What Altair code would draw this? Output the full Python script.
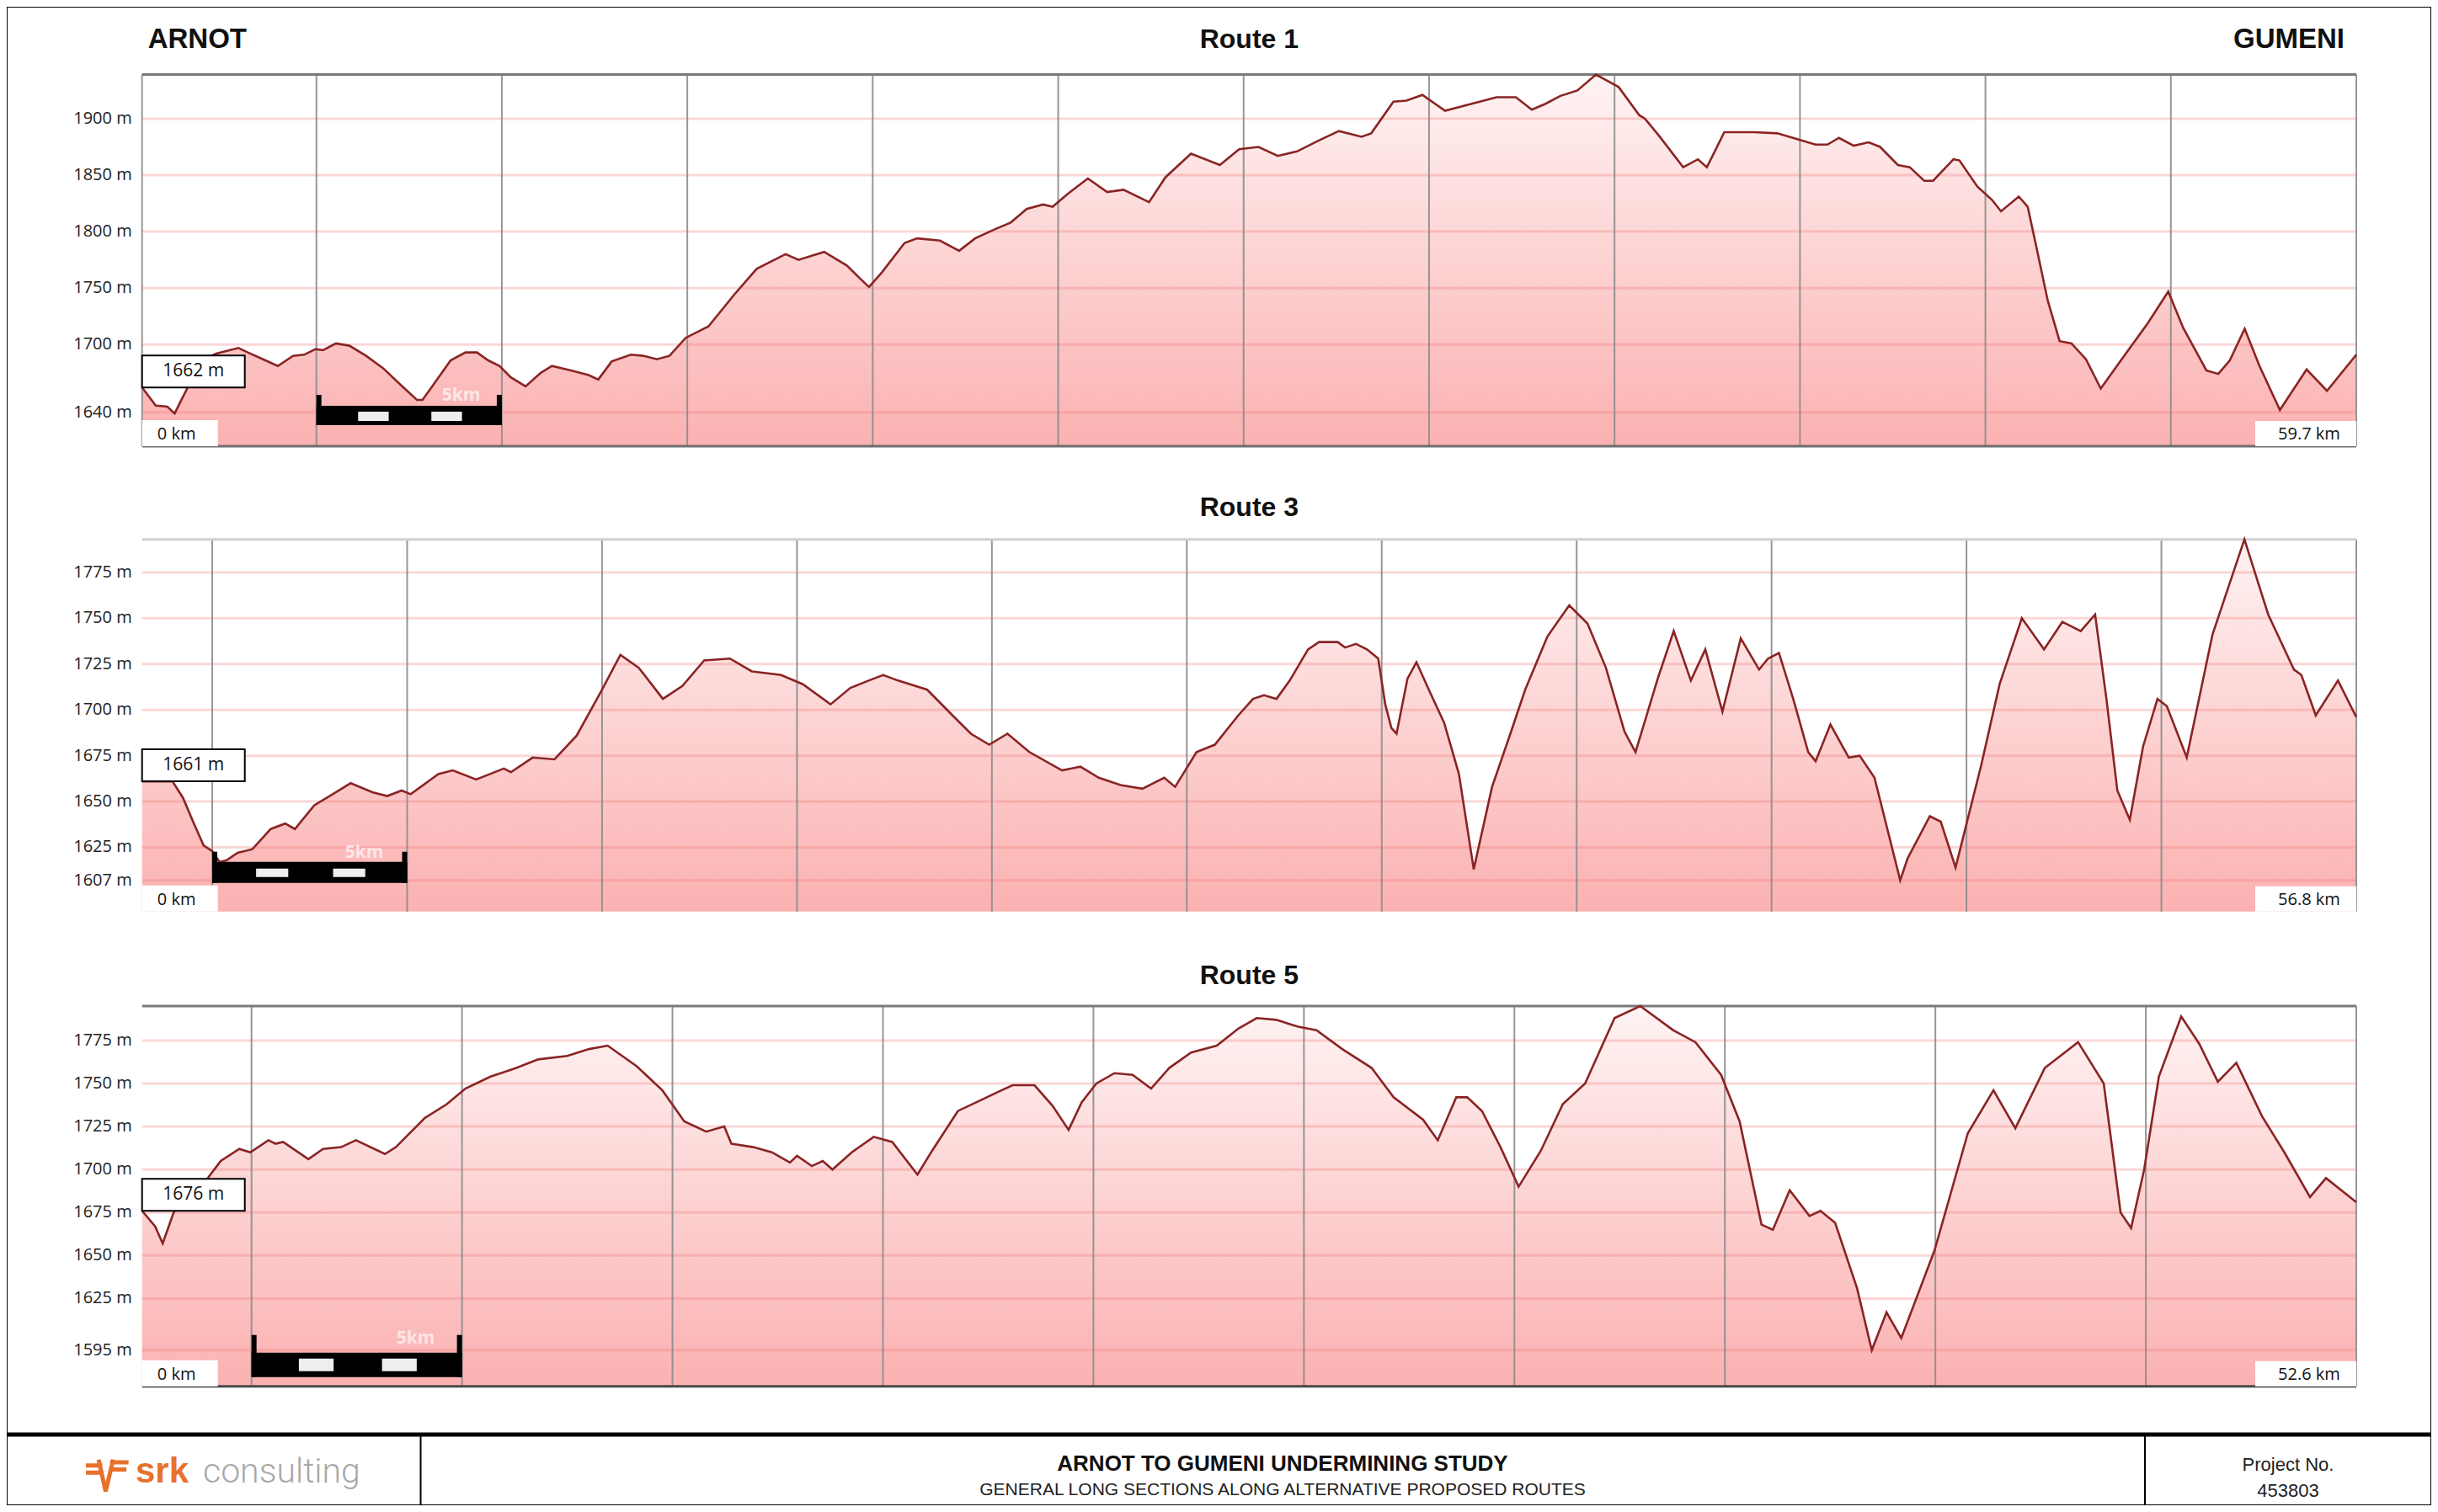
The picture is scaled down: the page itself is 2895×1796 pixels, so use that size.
import altair as alt
import pandas as pd

# ---------------- data (km along route, elevation in m) ----------------
route1 = [(0, 1662), (0.37, 1646), (0.68, 1645), (0.88, 1639), (1.03, 1649), (1.23, 1662), (1.5, 1685),
          (2.0, 1692), (2.6, 1697), (2.85, 1693), (3.26, 1687), (3.66, 1681), (4.07, 1690), (4.37, 1691),
          (4.68, 1696), (4.88, 1695), (5.23, 1701), (5.59, 1699), (6.04, 1690), (6.5, 1679), (6.95, 1665),
          (7.41, 1651), (7.56, 1651), (7.91, 1667), (8.32, 1686), (8.72, 1693), (9.03, 1693), (9.33, 1686),
          (9.64, 1681), (9.94, 1671), (10.34, 1663), (10.75, 1675), (11.05, 1681), (11.56, 1677), (12.04, 1673),
          (12.3, 1669), (12.66, 1685), (13.18, 1691), (13.53, 1690), (13.88, 1687), (14.22, 1690), (14.66, 1706),
          (15.27, 1716), (15.96, 1744), (16.57, 1767), (17.35, 1780), (17.7, 1775), (18.39, 1782), (19.0, 1770),
          (19.34, 1759), (19.6, 1751), (19.95, 1764), (20.56, 1790), (20.9, 1794), (21.51, 1792), (22.03, 1783),
          (22.46, 1794), (22.99, 1802), (23.42, 1808), (23.85, 1820), (24.29, 1824), (24.55, 1822), (24.98, 1834),
          (25.5, 1847), (26.02, 1835), (26.46, 1837), (27.15, 1826), (27.59, 1848), (28.28, 1869), (29.06, 1859),
          (29.58, 1873), (30.1, 1875), (30.62, 1867), (31.14, 1871), (31.75, 1881), (32.27, 1889), (32.88, 1884),
          (33.14, 1887), (33.74, 1915), (34.09, 1916), (34.52, 1921), (35.13, 1907), (35.83, 1913), (36.52, 1919),
          (37.04, 1919), (37.47, 1908), (37.83, 1913), (38.23, 1920), (38.7, 1925), (39.2, 1939), (39.81, 1928),
          (40.37, 1903), (40.52, 1900), (40.92, 1884), (41.55, 1857), (41.95, 1864), (42.19, 1857), (42.66, 1888),
          (43.46, 1888), (44.09, 1887), (44.72, 1881), (45.12, 1877), (45.44, 1877), (45.75, 1883), (46.15, 1876),
          (46.55, 1879), (46.86, 1875), (47.34, 1859), (47.66, 1857), (48.05, 1845), (48.29, 1845), (48.84, 1864),
          (49.0, 1863), (49.48, 1840), (49.88, 1828), (50.12, 1818), (50.6, 1831), (50.84, 1822), (51.07, 1787),
          (51.38, 1739), (51.7, 1703), (52.02, 1701), (52.41, 1687), (52.81, 1661), (53.44, 1690), (54.08, 1719),
          (54.63, 1747), (55.03, 1715), (55.66, 1677), (55.98, 1674), (56.29, 1686), (56.69, 1714), (57.09, 1681),
          (57.64, 1642), (58.36, 1678), (58.91, 1659), (59.7, 1691)]

route3 = [(0, 1661), (0.78, 1661), (1.05, 1652), (1.33, 1638), (1.58, 1626), (1.8, 1623), (1.99, 1617),
          (2.17, 1618), (2.45, 1622), (2.83, 1624), (3.3, 1635), (3.67, 1638), (3.92, 1635), (4.42, 1648),
          (4.89, 1654), (5.35, 1660), (5.92, 1655), (6.29, 1653), (6.66, 1656), (6.89, 1654), (7.6, 1665),
          (7.97, 1667), (8.57, 1662), (9.28, 1668), (9.46, 1666), (10.02, 1674), (10.58, 1673), (11.15, 1686),
          (11.8, 1711), (12.27, 1730), (12.74, 1723), (13.36, 1706), (13.86, 1713), (14.42, 1727), (15.08, 1728),
          (15.64, 1721), (16.39, 1719), (16.95, 1714), (17.66, 1703), (18.17, 1712), (18.64, 1716), (19.01, 1719),
          (19.39, 1716), (20.14, 1711), (20.79, 1697), (21.26, 1687), (21.73, 1681), (22.2, 1687), (22.76, 1677),
          (23.6, 1667), (24.07, 1669), (24.54, 1663), (25.1, 1659), (25.66, 1657), (26.22, 1663), (26.5, 1658),
          (27.05, 1677), (27.52, 1681), (28.12, 1697), (28.5, 1706), (28.78, 1708), (29.1, 1706), (29.44, 1716),
          (29.91, 1733), (30.19, 1737), (30.67, 1737), (30.86, 1734), (31.14, 1736), (31.42, 1733), (31.71, 1728),
          (31.89, 1703), (32.05, 1690), (32.18, 1687), (32.46, 1717), (32.69, 1726), (33.03, 1710), (33.4, 1693),
          (33.78, 1665), (34.16, 1613), (34.63, 1658), (35.1, 1687), (35.48, 1711), (36.05, 1740), (36.61, 1757),
          (37.08, 1747), (37.55, 1723), (38.03, 1688), (38.31, 1677), (38.88, 1717), (39.29, 1743), (39.73, 1716),
          (40.1, 1733), (40.54, 1699), (41.01, 1739), (41.48, 1722), (41.71, 1728), (41.99, 1731), (42.37, 1705),
          (42.74, 1677), (42.93, 1672), (43.31, 1692), (43.78, 1674), (44.06, 1675), (44.44, 1663), (45.1, 1607),
          (45.29, 1619), (45.86, 1642), (46.14, 1639), (46.52, 1614), (47.18, 1670), (47.65, 1714), (48.22, 1750),
          (48.79, 1733), (49.26, 1748), (49.73, 1743), (50.1, 1752), (50.39, 1706), (50.67, 1656), (50.99, 1640),
          (51.33, 1680), (51.7, 1706), (51.94, 1702), (52.45, 1674), (53.11, 1741), (53.93, 1793), (54.54, 1752),
          (55.2, 1722), (55.39, 1719), (55.76, 1697), (56.33, 1716), (56.8, 1696)]

route5 = [(0, 1676), (0.31, 1667), (0.49, 1657), (0.75, 1675), (1.18, 1690), (1.53, 1694), (1.87, 1705),
          (2.31, 1712), (2.57, 1710), (3.0, 1717), (3.17, 1715), (3.35, 1716), (3.95, 1706), (4.3, 1712),
          (4.73, 1713), (5.08, 1717), (5.77, 1709), (6.03, 1713), (6.72, 1730), (7.24, 1738), (7.68, 1747),
          (8.28, 1754), (8.89, 1759), (9.41, 1764), (10.1, 1766), (10.62, 1770), (11.06, 1772), (11.75, 1760),
          (12.36, 1746), (12.88, 1728), (13.4, 1722), (13.83, 1725), (14.0, 1715), (14.52, 1713), (14.96, 1710),
          (15.39, 1704), (15.56, 1708), (15.91, 1702), (16.17, 1705), (16.4, 1700), (16.86, 1710), (17.38, 1719),
          (17.82, 1716), (18.42, 1697), (18.77, 1711), (19.38, 1734), (19.9, 1740), (20.33, 1745), (20.68, 1749),
          (21.2, 1749), (21.63, 1737), (22.01, 1723), (22.32, 1739), (22.67, 1750), (23.1, 1756), (23.53, 1755),
          (23.97, 1747), (24.4, 1759), (24.92, 1768), (25.53, 1772), (26.05, 1782), (26.48, 1788), (26.94, 1787),
          (27.46, 1783), (27.9, 1781), (28.51, 1770), (29.21, 1759), (29.73, 1742), (30.43, 1729), (30.78, 1717),
          (31.22, 1742), (31.48, 1742), (31.83, 1734), (32.27, 1713), (32.7, 1690), (33.23, 1711), (33.75, 1738),
          (34.28, 1750), (34.98, 1788), (35.59, 1795), (36.37, 1781), (36.9, 1774), (37.51, 1755), (37.95, 1728),
          (38.47, 1668), (38.74, 1665), (39.14, 1688), (39.61, 1673), (39.87, 1676), (40.22, 1669), (40.74, 1631),
          (41.09, 1595), (41.44, 1617), (41.79, 1602), (42.58, 1653), (43.37, 1721), (43.98, 1746), (44.5, 1724),
          (45.2, 1759), (45.99, 1774), (46.6, 1750), (47.0, 1675), (47.25, 1666), (47.56, 1700), (47.91, 1754),
          (48.44, 1789), (48.87, 1773), (49.31, 1751), (49.75, 1762), (50.36, 1731), (50.89, 1710), (51.5, 1684),
          (51.88, 1695), (52.6, 1681)]

route_titles = ["Route 1", "Route 3", "Route 5"]
route_lengths = [59.7, 56.8, 52.6]
route1_ticks = [1640, 1700, 1750, 1800, 1850, 1900]
route3_ticks = [1607, 1625, 1650, 1675, 1700, 1725, 1750, 1775]
route5_ticks = [1595, 1625, 1650, 1675, 1700, 1725, 1750, 1775]
route1_grid_km = [0, 4.7, 9.7, 14.7, 19.7, 24.7, 29.7, 34.7, 39.7, 44.7, 49.7, 54.7, 59.7]
route3_grid_km = [1.8, 6.8, 11.8, 16.8, 21.8, 26.8, 31.8, 36.8, 41.8, 46.8, 51.8, 56.8]
route5_grid_km = [2.6, 7.6, 12.6, 17.6, 22.6, 27.6, 32.6, 37.6, 42.6, 47.6, 52.6]
route_domains = [(1610, 1939), (1590, 1793), (1574, 1795)]
scalebar_start_km = [4.7, 1.8, 2.6]
scalebar_km = 5
place_start = "ARNOT"
place_end = "GUMENI"
block_title = "ARNOT TO GUMENI UNDERMINING STUDY"
block_subtitle = "GENERAL LONG SECTIONS ALONG ALTERNATIVE PROPOSED ROUTES"
project_label = "Project No."
project_number = "453803"

# ---------------- layout / style ----------------
W, H = 2879, 1780
X_RANGE = [160.7, 2790]
Y_RANGES = [[522, 80.6], [1074.7, 632.7], [1638.7, 1187]]
TITLE_DY = [-42, -38, -36]
TOP_COLORS = ["#7a7a7a", "#cfcfcf", "#7a7a7a"]
BOTTOM_COLORS = ["#6e6e6e", None, "#4a4a4a"]
# scale bar offsets (px from plot bottom): tick_top, band_top, band_bot, dash_top, dash_bot, text
BAR = [(-61, -48, -25, -41, -30, -60), (-71, -59, -34, -51, -41, -70), (-61, -40, -11, -33, -18, -57)]

LINE_COLOR = "#8a2424"
FONT = "Open Sans"
BOLD_FONT = "Liberation Sans"
GRAD = alt.Gradient(
    gradient="linear",
    stops=[alt.GradientStop(color="#fff3f3", offset=0), alt.GradientStop(color="#fbb1b1", offset=1)],
    x1=1, x2=1, y1=0, y2=1,
)


def one():
    return pd.DataFrame({"one": [1]})


def panel(i, pts, ticks, grid):
    title = route_titles[i]
    length = route_lengths[i]
    lo, hi = route_domains[i]
    xs = alt.Scale(domain=[0, length], range=X_RANGE, nice=False, zero=False)
    ys = alt.Scale(domain=[lo, hi], range=Y_RANGES[i], nice=False, zero=False)

    def XD(v):
        return alt.XDatum(datum=v, scale=xs, axis=None)

    def YD(v):
        return alt.YDatum(datum=v, scale=ys, axis=None)

    prof = pd.DataFrame({"km": [p[0] for p in pts], "m": [p[1] for p in pts]})
    start = prof["m"].iloc[0]
    tick_df = pd.DataFrame({"tick": ticks, "label": [f"{t} m" for t in ticks]})
    grid_df = pd.DataFrame({"g": list(grid)})
    X = alt.X("km:Q", scale=xs, axis=None)
    Y = alt.Y("m:Q", scale=ys, axis=None)

    L = []
    L.append(alt.Chart(prof).mark_area(color=GRAD).encode(x=X, y=Y, y2=alt.Y2Datum(lo)))
    L.append(alt.Chart(tick_df).mark_rule(color="#f07070", opacity=0.28, strokeWidth=3).encode(
        x=XD(0), x2=alt.X2Datum(length), y=alt.Y("tick:Q", scale=ys, axis=None)))
    L.append(alt.Chart(grid_df).mark_rule(color="#8c8c8c", strokeWidth=2, opacity=0.9).encode(
        x=alt.X("g:Q", scale=xs, axis=None), y=YD(lo), y2=alt.Y2Datum(hi)))
    L.append(alt.Chart(one()).mark_rule(color=TOP_COLORS[i], strokeWidth=3).encode(
        x=XD(0), x2=alt.X2Datum(length), y=YD(hi)))
    if BOTTOM_COLORS[i]:
        L.append(alt.Chart(one()).mark_rule(color=BOTTOM_COLORS[i], strokeWidth=3).encode(
            x=XD(0), x2=alt.X2Datum(length), y=YD(lo)))
    L.append(alt.Chart(prof).mark_line(color=LINE_COLOR, strokeWidth=2.6).encode(x=X, y=Y))

    # scale bar
    tt, bt, bb, dt, db, tx = BAR[i]
    s0 = scalebar_start_km[i]
    s1 = s0 + scalebar_km
    L.append(alt.Chart(one()).mark_rect(color="black", yOffset=bt, y2Offset=bb).encode(
        x=XD(s0), x2=alt.X2Datum(s1), y=YD(lo), y2=alt.Y2Datum(lo)))
    L.append(alt.Chart(one()).mark_rect(color="black", x2Offset=6, yOffset=tt, y2Offset=bb).encode(
        x=XD(s0), x2=alt.X2Datum(s0), y=YD(lo), y2=alt.Y2Datum(lo)))
    L.append(alt.Chart(one()).mark_rect(color="black", xOffset=-6, yOffset=tt, y2Offset=bb).encode(
        x=XD(s1), x2=alt.X2Datum(s1), y=YD(lo), y2=alt.Y2Datum(lo)))
    dash_df = pd.DataFrame({"d0": [s0 + scalebar_km * 0.225, s0 + scalebar_km * 0.62],
                            "d1": [s0 + scalebar_km * 0.39, s0 + scalebar_km * 0.785]})
    L.append(alt.Chart(dash_df).mark_rect(color="#eeeeee", yOffset=dt, y2Offset=db).encode(
        x=alt.X("d0:Q", scale=xs, axis=None), x2="d1:Q", y=YD(lo), y2=alt.Y2Datum(lo)))
    L.append(alt.Chart(one()).mark_text(text=f"{scalebar_km}km", color="#fde6e6", font=FONT, fontSize=21,
                                        fontWeight="bold", dy=tx, baseline="middle", align="center").encode(
        x=XD(s0 + scalebar_km * 0.78), y=YD(lo)))

    # start elevation box
    L.append(alt.Chart(one()).mark_rect(fill="white", stroke="black", strokeWidth=2, x2Offset=122,
                                        y2Offset=-38).encode(
        x=XD(0), x2=alt.X2Datum(0), y=YD(start), y2=alt.Y2Datum(start)))
    L.append(alt.Chart(one()).mark_text(text=f"{start} m", font=FONT, fontSize=21, color="#111111",
                                        dx=61, dy=-19, align="center", baseline="middle").encode(
        x=XD(0), y=YD(start)))

    # distance boxes
    L.append(alt.Chart(one()).mark_rect(color="white", x2Offset=90, y2Offset=-31).encode(
        x=XD(0), x2=alt.X2Datum(0), y=YD(lo), y2=alt.Y2Datum(lo)))
    L.append(alt.Chart(one()).mark_text(text="0 km", font=FONT, fontSize=20, color="#111111",
                                        dx=41, dy=-14, align="center", baseline="middle").encode(
        x=XD(0), y=YD(lo)))
    L.append(alt.Chart(one()).mark_rect(color="white", xOffset=-120, y2Offset=-30).encode(
        x=XD(length), x2=alt.X2Datum(length), y=YD(lo), y2=alt.Y2Datum(lo)))
    L.append(alt.Chart(one()).mark_text(text=f"{length} km", font=FONT, fontSize=20, color="#111111",
                                        dx=-56, dy=-14, align="center", baseline="middle").encode(
        x=XD(length), y=YD(lo)))

    # y tick labels
    L.append(alt.Chart(tick_df).mark_text(align="right", baseline="middle", dx=-12, font=FONT, fontSize=20,
                                          color="#222222").encode(
        x=XD(0), y=alt.Y("tick:Q", scale=ys, axis=None), text="label:N"))

    # titles
    L.append(alt.Chart(one()).mark_text(text=title, font=BOLD_FONT, fontWeight="bold", fontSize=32,
                                        color="#111111", dy=TITLE_DY[i], baseline="middle",
                                        align="center").encode(x=XD(length / 2), y=YD(hi)))
    if i == 0:
        L.append(alt.Chart(one()).mark_text(text=place_start, font=BOLD_FONT, fontWeight="bold", fontSize=33,
                                            color="#111111", dy=TITLE_DY[i], dx=7, baseline="middle",
                                            align="left").encode(x=XD(0), y=YD(hi)))
        L.append(alt.Chart(one()).mark_text(text=place_end, font=BOLD_FONT, fontWeight="bold", fontSize=33,
                                            color="#111111", dy=TITLE_DY[i], dx=-14, baseline="middle",
                                            align="right").encode(x=XD(length), y=YD(hi)))
    return alt.layer(*L)


p1 = panel(0, route1, route1_ticks, route1_grid_km)
p3 = panel(1, route3, route3_ticks, route3_grid_km)
p5 = panel(2, route5, route5_ticks, route5_grid_km)

# ---------------- title block ----------------
TB_TOP = 1696
frame = []
frame.append(alt.Chart(one()).mark_rule(color="black", strokeWidth=5).encode(
    x=alt.value(0), x2=alt.value(W), y=alt.value(TB_TOP)))
frame.append(alt.Chart(one()).mark_rule(color="black", strokeWidth=2).encode(
    x=alt.value(491.5), y=alt.value(TB_TOP), y2=alt.value(H)))
frame.append(alt.Chart(one()).mark_rule(color="black", strokeWidth=2).encode(
    x=alt.value(2539), y=alt.value(TB_TOP), y2=alt.value(H)))
logo_path = ("M-1,-0.28L-0.25,-0.28M-1,0.05L-0.2,0.05M-0.42,-0.55L-0.1,0.9L0.25,-0.55"
             "M0.1,-0.42L0.95,-0.42M0.05,-0.1L0.85,-0.1")
frame.append(alt.Chart(one()).mark_point(shape=logo_path, size=2700, filled=False, stroke="#e8712b",
                                         strokeWidth=5, opacity=1).encode(
    x=alt.value(120), y=alt.value(1740)))
frame.append(alt.Chart(one()).mark_text(text="srk", font=BOLD_FONT, fontWeight="bold", fontSize=42,
                                        color="#e8712b", align="left", baseline="alphabetic").encode(
    x=alt.value(153), y=alt.value(1753)))
frame.append(alt.Chart(one()).mark_text(text="consulting", font="Roboto", fontWeight=300, fontSize=41,
                                        color="#a8a8a8", align="left", baseline="alphabetic").encode(
    x=alt.value(233), y=alt.value(1753)))
frame.append(alt.Chart(one()).mark_text(text=block_title, font=BOLD_FONT, fontWeight="bold", fontSize=26,
                                        color="#111111", align="center", baseline="middle").encode(
    x=alt.value(1515), y=alt.value(1731)))
frame.append(alt.Chart(one()).mark_text(text=block_subtitle, font=BOLD_FONT, fontSize=21,
                                        color="#222222", align="center", baseline="middle").encode(
    x=alt.value(1515), y=alt.value(1762)))
frame.append(alt.Chart(one()).mark_text(text=project_label, font=BOLD_FONT, fontSize=22,
                                        color="#222222", align="center", baseline="middle").encode(
    x=alt.value(2709), y=alt.value(1732)))
frame.append(alt.Chart(one()).mark_text(text=project_number, font=BOLD_FONT, fontSize=22,
                                        color="#222222", align="center", baseline="middle").encode(
    x=alt.value(2709), y=alt.value(1763)))

chart = alt.layer(p1, p3, p5, *frame).resolve_scale(x="independent", y="independent").properties(
    width=W, height=H, padding=0, autosize="none", background="white"
).configure_view(stroke="black", strokeWidth=2)

chart.save("out.html", embed_options={"renderer": "svg", "actions": False})
